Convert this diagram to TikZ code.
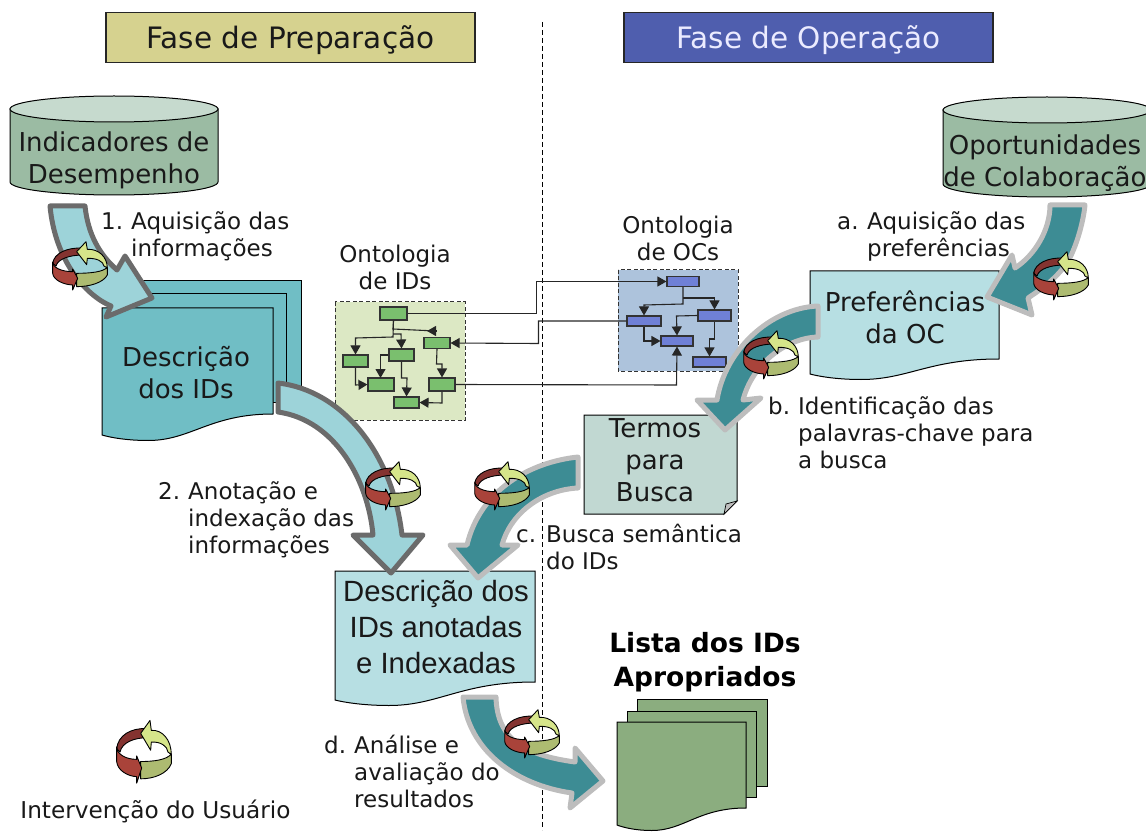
\documentclass[tikz,border=0pt]{standalone}
\usepackage{fontspec}
\setmainfont{DejaVu Sans}
\newfontfamily\arialfont{Liberation Sans}
\usetikzlibrary{arrows.meta,shapes.geometric}
\definecolor{hdrA}{HTML}{D6D28F}
\definecolor{hdrB}{HTML}{4F5EAE}
\definecolor{cylBody}{HTML}{9BBBA3}
\definecolor{cylTop}{HTML}{C6DACE}
\definecolor{docTeal}{HTML}{70BEC5}
\definecolor{docLight}{HTML}{B7DFE3}
\definecolor{docGreen}{HTML}{8BAD7F}
\definecolor{noteCol}{HTML}{C1D8D2}
\definecolor{panelG}{HTML}{DCE8C4}
\definecolor{panelB}{HTML}{ADC3DC}
\definecolor{boxG}{HTML}{7ABF6E}
\definecolor{boxB}{HTML}{6F80D6}
\definecolor{arrLight}{HTML}{9DD3D9}
\definecolor{arrTeal}{HTML}{3D8C94}
\definecolor{edgeDark}{HTML}{6B6B6B}
\definecolor{edgeLight}{HTML}{BDBDBD}
\definecolor{icoDark}{HTML}{843330}
\definecolor{icoRed}{HTML}{A9433A}
\definecolor{icoYel}{HTML}{D6E58A}
\definecolor{icoOli}{HTML}{ADBB71}
\newcommand{\lnum}[1]{\makebox[30pt][l]{#1}}
\newcommand{\lind}{\hspace*{30pt}}
\tikzset{
  lab/.style={font=\fontsize{23}{27}\selectfont,align=left,anchor=north west,inner sep=0pt,text=black!90},
  ctr/.style={font=\fontsize{26}{32}\selectfont,align=center,inner sep=0pt,text=black!90},
  sheet/.style={draw=black,line width=1pt},
  bigL/.style={fill=arrLight,draw=edgeDark,line width=5pt,line join=round},
  bigT/.style={fill=arrTeal,draw=edgeLight,line width=5pt,line join=round},
  gbox/.style={draw=black!80,fill=boxG,line width=1.1pt,inner sep=0pt},
  bbox/.style={draw=black!80,fill=boxB,line width=1.1pt,inner sep=0pt},
  conn/.style={draw=black!85,line width=1.1pt,-{Triangle[length=9pt,width=10pt]}},
  plain/.style={draw=black!85,line width=1.1pt},
  panel/.style={draw=black!80,dash pattern=on 4pt off 2.5pt,line width=1pt},
  cycle/.pic={
    \begin{scope}[draw=black,line width=0.9pt,line join=round,x=0.333pt,y=-0.333pt]
      \filldraw[fill=icoDark] (-82,-8) .. controls (-78,-38) and (-40,-56) .. (8,-54) -- (10,-33)
        .. controls (-30,-33) and (-66,-22) .. (-72,0) -- cycle;
      \filldraw[fill=icoOli] (-10,22) .. controls (30,22) and (70,18) .. (82,4) -- (82,27)
        .. controls (70,50) and (30,62) .. (-10,62) -- cycle;
      \filldraw[fill=icoYel] (-10,-43) -- (18,-73) -- (22,-50) .. controls (55,-52) and (82,-28) .. (82,6)
        -- (72,0) .. controls (70,-14) and (50,-24) .. (22,-23) -- (20,-4) -- cycle;
      \filldraw[fill=icoRed] (-82,-12) -- (-82,22) .. controls (-80,42) and (-50,56) .. (-22,57)
        -- (-22,72) -- (-7,37) -- (-22,9) -- (-22,17) .. controls (-55,17) and (-82,5) .. (-82,-12) -- cycle;
    \end{scope}
  }
}
% wavy document: fill, left, top, right, bottom right, bottom left
\newcommand{\wavedoc}[6]{%
  \pgfmathsetmacro{\wW}{#4-#2}%
  \pgfmathsetmacro{\wA}{#4-0.37*\wW}%
  \pgfmathsetmacro{\wB}{#2+0.52*\wW}%
  \pgfmathsetmacro{\wC}{#2+0.27*\wW}%
  \pgfmathsetmacro{\wD}{#6+5.5}%
  \pgfmathsetmacro{\wE}{#2+0.1*\wW}%
  \filldraw[sheet,fill=#1] (#2,#3) -- (#4,#3) -- (#4,#5)
    .. controls (\wA,#5) and (\wB,\wD) .. (\wC,\wD)
    .. controls (\wE,\wD) and (#2,#6) .. (#2,#6) -- cycle;}
\begin{document}
\begin{tikzpicture}[x=1pt,y=-1pt]
\clip (0,0) rectangle (1146,834);
\useasboundingbox (0,0) rectangle (1146,834);
% centre divider
\coordinate (divT) at (542.5,22);
\coordinate (divB) at (542.5,830);
\draw[black,line width=1pt,dash pattern=on 5pt off 3pt] (divT) -- (divB);
% headers
\node[draw=black!85,fill=hdrA,line width=1.1pt,minimum width=369pt,minimum height=50pt,inner sep=0pt] (hdrPrep) at (290.5,37.5) {};
\node[inner sep=0pt,font=\fontsize{29.5}{32}\selectfont,text=black!90] (hdrPrepT) at (290.5,40) {Fase de Preparação};
\node[draw=black!85,fill=hdrB,line width=1.1pt,minimum width=369pt,minimum height=50pt,inner sep=0pt] (hdrOper) at (808.5,37.5) {};
\node[inner sep=0pt,font=\fontsize{29.5}{32}\selectfont,text=white!92!blue] (hdrOperT) at (808.5,40) {Fase de Operação};
% cylinders
\filldraw[sheet,fill=cylBody] (10,109) -- (10,182) arc[start angle=180,end angle=0,x radius=104,y radius=13] -- (218,109) -- cycle;
\filldraw[sheet,fill=cylTop] (114,109) ellipse[x radius=104,y radius=13];
\node[ctr] (cylA) at (114,160) {Indicadores de\\Desempenho};
\filldraw[sheet,fill=cylBody] (943,110) -- (943,184) arc[start angle=180,end angle=0,x radius=104,y radius=13] -- (1151,110) -- cycle;
\filldraw[sheet,fill=cylTop] (1047,110) ellipse[x radius=104,y radius=13];
\node[ctr] (cylB) at (1045,163) {Oportunidades\\de Colaboração};
% ontology panels
\filldraw[panel,fill=panelG] (335,302) rectangle (465,420);
\filldraw[panel,fill=panelB] (618,270) rectangle (738,371);
\node[gbox,minimum width=27pt,minimum height=13pt] (g1) at (393.5,313.5) {};
\node[gbox,minimum width=26pt,minimum height=11pt] (g2) at (437,343) {};
\node[gbox,minimum width=25pt,minimum height=12pt] (g3) at (355.5,361) {};
\node[gbox,minimum width=25pt,minimum height=12pt] (g4) at (401.5,355) {};
\node[gbox,minimum width=26pt,minimum height=13pt] (g5) at (381,384.5) {};
\node[gbox,minimum width=26pt,minimum height=13pt] (g6) at (442,384.5) {};
\node[gbox,minimum width=25pt,minimum height=11pt] (g7) at (406.5,402.5) {};
\node[bbox,minimum width=32pt,minimum height=10pt] (b1) at (683,281.5) {};
\node[bbox,minimum width=34pt,minimum height=10pt] (b2) at (644,321) {};
\node[bbox,minimum width=33pt,minimum height=11pt] (b3) at (714.5,315.5) {};
\node[bbox,minimum width=32pt,minimum height=10pt] (b4) at (677,341) {};
\node[bbox,minimum width=33pt,minimum height=10pt] (b5) at (709.5,362) {};
% green connectors
\draw[plain] (g1.south) -- (393,329) -- (436,331);
\draw[-{Triangle[length=9pt,width=10pt]},draw=black!85,line width=1.1pt] (436,331) -- (427,331);
\draw[conn] (g1.south) -- (393,337) -- (355.5,338) -- (g3.north);
\draw[conn] (393,334) -- (401,334) -- (g4.north);
\draw[conn] (g4.west) -- (380.5,355) -- (380.5,378);
\draw[conn] (g3.south) -- (355.5,385) -- (g5.west);
\draw[conn] (g4.south) -- (401.5,378) -- (407,378) -- (g7.north);
\draw[conn] (g2.south) -- (436.5,364) -- (442,364) -- (g6.north);
\draw[conn] (g6.south) -- (442,403) -- (g7.east);
% cross connectors
\draw[conn] (g1.east) -- (536.5,313.5) -- (536.5,281.5) -- (b1.west);
\draw[conn] (b2.west) -- (538.5,321) -- (538.5,343.5) -- (g2.east);
\draw[conn] (g6.east) -- (676.5,385) -- (b4.south);
% blue connectors
\draw[conn] (b1.south) -- (683,304) -- (644,305) -- (b2.north);
\draw[conn] (683,298) -- (714.5,298) -- (b3.north);
\draw[conn] (b2.south) -- (644,341) -- (b4.west);
\draw[conn] (b3.west) -- (676.5,316) -- (b4.north);
\draw[conn] (b3.south) -- (714.5,339) -- (709.5,339) -- (b5.north);
% documents
\filldraw[sheet,fill=docTeal] (130,281) rectangle (301,388);
\filldraw[sheet,fill=docTeal] (115,294) rectangle (286,402);
\wavedoc{docTeal}{102}{308}{273}{414}{435}
\node[ctr] (descIDs) at (186,373) {Descrição\\dos IDs};
\wavedoc{docLight}{810}{271}{999}{359}{374}
\node[ctr] (prefOC) at (905,317) {Preferências\\da OC};
% note
\filldraw[sheet,fill=noteCol] (584,415) -- (737,415) -- (737,501) -- (724,514) -- (584,514) -- cycle;
\filldraw[draw=black,line width=0.7pt,fill=black!25] (737,501) -- (726,504) -- (724,514) -- cycle;
\node[ctr] (termos) at (655,460) {Termos\\para\\Busca};
\wavedoc{docLight}{335}{571}{535}{682}{700}
\node[font=\arialfont\fontsize{29.3}{36}\selectfont,align=center,inner sep=0pt,text=black!90] (descAnot) at (436,627) {Descrição dos\\IDs anotadas\\e Indexadas};
% list stack
\filldraw[sheet,fill=docGreen] (637,699) rectangle (767,786);
\filldraw[sheet,fill=docGreen] (627,711) rectangle (756,797);
\wavedoc{docGreen}{617}{722}{746}{808}{825}
\node[font=\bfseries\fontsize{26.5}{33.5}\selectfont,align=center,inner sep=0pt,text=black] (lista) at (705,662) {Lista dos IDs\\Apropriados};
% big arrows
\draw[bigL] (50,206) -- (85,206) .. controls (88,235) and (100,255) .. (117,270) -- (125,256) -- (152,298) -- (106,317) -- (111,306) .. controls (85,295) and (55,260) .. (50,206) -- cycle;
\draw[bigL] (278,383) .. controls (340,390) and (392,450) .. (402,535) -- (423,535) -- (391,573) -- (353,535) -- (373,535) .. controls (368,480) and (335,420) .. (278,412) -- cycle;
\draw[bigT] (578,457) .. controls (530,462) and (480,490) .. (467,545) -- (450,545) -- (478,578) -- (518,545) -- (502,545) .. controls (510,515) and (540,490) .. (578,488) -- cycle;
\draw[bigT] (1050,205) -- (1085,205) .. controls (1083,225) and (1075,250) .. (1067,263) .. controls (1055,280) and (1040,290) .. (1028,298) -- (1032,315) -- (987,297) -- (1012,255) -- (1015,268) .. controls (1035,255) and (1050,230) .. (1050,205) -- cycle;
\draw[bigT] (818,306) .. controls (770,308) and (725,350) .. (717,400) -- (697,400) -- (725,430) -- (761,398) -- (743,400) .. controls (752,365) and (785,338) .. (818,337) -- cycle;
\draw[bigT] (463,697) -- (496,697) .. controls (497,740) and (525,755) .. (575,762) -- (575,748) -- (603,781) -- (570,808) -- (572,793) .. controls (515,785) and (468,750) .. (463,697) -- cycle;
% labels
\node[lab] (lab1) at (101,211) {\lnum{1.}Aquisição das\\\lind informações};
\node[lab] (lab2) at (158,481) {\lnum{2.}Anotação e\\\lind indexação das\\\lind informações};
\node[lab] (labA) at (837,211) {\lnum{a.}Aquisição das\\\lind preferências};
\node[lab] (labB) at (768,396) {\lnum{b.}Identificação das\\\lind palavras-chave para\\\lind a busca};
\node[lab] (labC) at (516,524) {\lnum{c.}Busca semântica\\\lind do IDs};
\node[lab] (labD) at (324,735) {\lnum{d.}Análise e\\\lind avaliação do\\\lind resultados};
\node[lab,align=center,anchor=center] (ontoI) at (395,267) {Ontologia\\de IDs};
\node[lab,align=center,anchor=center] (ontoO) at (678,238) {Ontologia\\de OCs};
\node[lab,anchor=center,font=\fontsize{23.2}{27}\selectfont] (legend) at (155.5,811) {Intervenção do Usuário};
% cycle icons
\pic at (80,266) {cycle};
\pic at (771,355) {cycle};
\pic at (1061,276) {cycle};
\pic at (393,486) {cycle};
\pic at (502,486) {cycle};
\pic at (532,734) {cycle};
\pic[yscale=1.3] at (144,752) {cycle};
\end{tikzpicture}
\end{document}
